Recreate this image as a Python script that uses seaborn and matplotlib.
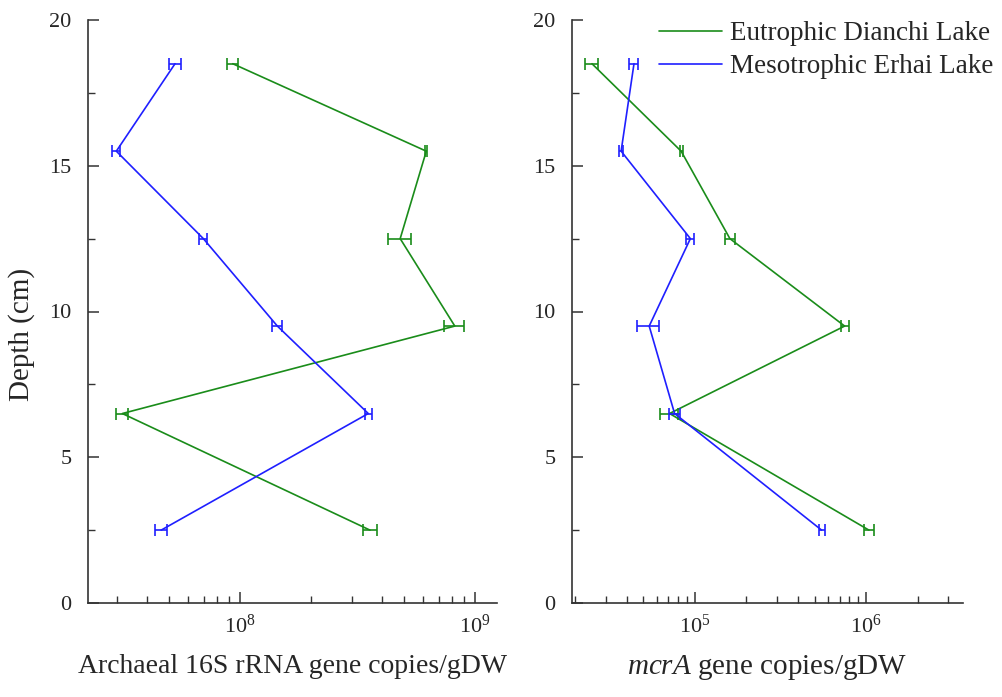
import numpy as np
import pandas as pd
import matplotlib
matplotlib.use('Agg')
import matplotlib.pyplot as plt
import seaborn as sns

depth = [18.5, 15.5, 12.5, 9.5, 6.5, 2.5]

# archaeal 16S rRNA gene copies/gDW
arch_dianchi = [9.3e7, 6.2e8, 4.8e8, 8.2e8, 3.15e7, 3.57e8]
arch_dianchi_err = [5e6, 6e6, 5.3e7, 8e7, 1.9e6, 2.5e7]
arch_erhai = [5.28e7, 2.97e7, 6.97e7, 1.44e8, 3.51e8, 4.61e7]
arch_erhai_err = [3.2e6, 1.2e6, 2.8e6, 7e6, 1.2e7, 2.5e6]

# mcrA gene copies/gDW
mcra_dianchi = [2.5e4, 8.3e4, 1.6e5, 7.5e5, 7.1e4, 1.04e6]
mcra_dianchi_err = [2.2e3, 1.7e3, 1.1e4, 4e4, 8.6e3, 7e4]
mcra_erhai = [4.4e4, 3.7e4, 9.4e4, 5.4e4, 7.6e4, 5.5e5]
mcra_erhai_err = [2.6e3, 1.1e3, 5e3, 7.9e3, 5.3e3, 2.2e4]

lakes = ['Eutrophic Dianchi Lake', 'Mesotrophic Erhai Lake']
colors = ['#1a8c1a', '#1f1fff']

sns.set_style('ticks')
plt.rcParams['font.family'] = ['Liberation Serif', 'DejaVu Serif']
plt.rcParams['mathtext.fontset'] = 'custom'
plt.rcParams['mathtext.rm'] = 'Liberation Serif'
plt.rcParams['mathtext.it'] = 'Liberation Serif:italic'

fig = plt.figure(figsize=(10.03, 6.97), dpi=100)
ax1 = fig.add_axes([88/1003, 1 - 603/697, 409/1003, 583/697])
ax2 = fig.add_axes([572/1003, 1 - 603/697, 391/1003, 583/697])

panels = [
    (ax1, [arch_dianchi, arch_erhai], [arch_dianchi_err, arch_erhai_err], (2.25e7, 1.24e9)),
    (ax2, [mcra_dianchi, mcra_erhai], [mcra_dianchi_err, mcra_erhai_err], (1.91e4, 3.69e6)),
]

for ax, vals, errs, xlim in panels:
    for v, e, name, c in zip(vals, errs, lakes, colors):
        d = pd.DataFrame({'copies': v, 'depth': depth})
        sns.lineplot(data=d, x='copies', y='depth', sort=False, orient='y',
                     estimator=None, color=c, lw=1.2, label=name, ax=ax)
        ax.errorbar(v, depth, xerr=e, fmt='none', ecolor=c, elinewidth=1.2,
                    capsize=4, capthick=1.2)
    ax.set_xscale('log')
    ax.set_xlim(*xlim)
    ax.set_ylim(0, 20)
    ax.set_yticks([0, 5, 10, 15, 20])
    ax.set_yticks([2.5, 7.5, 12.5, 17.5], minor=True)
    for s in ['top', 'right']:
        ax.spines[s].set_visible(False)
    for s in ['left', 'bottom']:
        ax.spines[s].set_color('#333333')
        ax.spines[s].set_linewidth(1.2)
    ax.tick_params(axis='both', which='major', direction='in', length=8, width=1.1,
                   labelsize=16, color='#333333')
    ax.tick_params(axis='both', which='minor', direction='in', length=5, width=1.0,
                   color='#333333')
    ax.tick_params(axis='x', pad=8)
    ax.tick_params(axis='y', pad=12)
    ax.set_ylabel('')
    ax.get_legend().remove()

ax1.set_xlabel('Archaeal 16S rRNA gene copies/gDW', fontsize=20, labelpad=12)
ax2.set_xlabel('$\\it{mcrA}$ gene copies/gDW', fontsize=21, labelpad=11)
ax1.set_ylabel('Depth (cm)', fontsize=21)
ax1.yaxis.set_label_coords(-0.13, 0.46)

handles, labels = ax2.get_legend_handles_labels()
ax2.legend(handles[:2], labels[:2], loc='upper right', bbox_to_anchor=(1.077, 0.998),
           borderaxespad=0, borderpad=0, frameon=False, fontsize=19.5,
           handlelength=2.35, handletextpad=0.27, labelspacing=0.3)

fig.savefig('out.png', dpi=100)
